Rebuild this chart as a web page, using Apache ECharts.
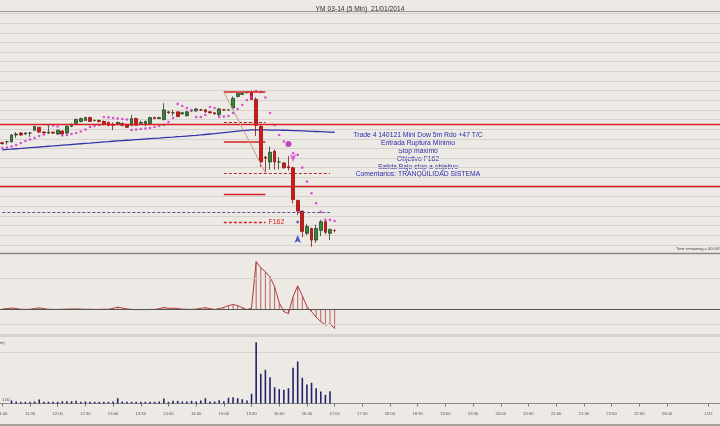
<!DOCTYPE html>
<html><head><meta charset="utf-8">
<script src="https://cdn.jsdelivr.net/npm/echarts@6/dist/echarts.min.js"></script>
<style>html,body{margin:0;padding:0;background:#edeae6;}#c{width:720px;height:426px;}</style>
</head><body><div id="c"></div><script>
// ---------- data ----------
const titleText = 'YM 03-14 (5 Min)  21/01/2014';
const tickLabels = ['11:00','11:30','12:00','12:30','13:00','13:30','14:00','14:30','15:00','15:30','16:00','16:30','17:00','17:30','18:00','18:30','19:00','19:30','20:00','20:30','21:00','21:30','22:00','22:30','23:00','1/22'];
// OHLC per 5-min bar from 11:00: [open, close, low, high]
const candles = [
[16376,16375,16374,16377],[16377,16377,16374,16378],[16377,16384,16376,16385],[16384,16385,16381,16387],
[16386,16384,16383,16387],[16385,16386,16384,16387],[16386,16386,16382,16387],[16389,16393,16388,16393],
[16392,16387,16386,16392],[16387,16386,16386,16388],[16386,16387,16385,16394],[16387,16386,16385,16387],
[16385,16389,16384,16389],[16388,16385,16384,16389],[16386,16393,16385,16394],[16393,16395,16392,16396],
[16396,16400,16395,16401],[16398,16401,16397,16402],[16399,16402,16399,16403],[16402,16398,16398,16403],
[16399,16399,16398,16400],[16399,16398,16397,16400],[16398,16395,16394,16399],[16397,16394,16393,16398],
[16395,16394,16389,16397],[16395,16397,16394,16398],[16396,16394,16393,16397],[16395,16392,16391,16395],
[16394,16401,16393,16405],[16401,16394,16394,16402],[16396,16397,16395,16399],[16395,16398,16393,16399],
[16396,16402,16395,16403],[16402,16401,16401,16403],[16401,16402,16401,16403],[16400,16410,16399,16417],
[16408,16407,16406,16409],[16407,16407,16404,16410],[16408,16403,16403,16408],[16406,16407,16405,16408],
[16404,16408,16403,16409],[16409,16409,16408,16410],[16409,16411,16408,16412],[16410,16410,16409,16411],
[16410,16408,16407,16411],[16408,16407,16406,16409],[16407,16406,16405,16407],[16405,16411,16403,16412],
[16410,16410,16409,16411],[16410,16410,16409,16411],[16412,16422,16410,16424],[16424,16427,16423,16427],
[16426,16427,16426,16428],[16428,16428,16427,16429],[16428,16421,16420,16430],[16421,16394,16383,16423],
[16393,16356,16351,16394],[16361,16360,16346,16362],[16356,16366,16348,16372],[16367,16356,16348,16369],
[16356,16356,16348,16361],[16355,16350,16349,16356],[16351,16350,16347,16362],[16350,16317,16313,16351],
[16316,16305,16301,16317],[16305,16284,16278,16305],[16282,16289,16280,16292],[16287,16275,16268,16288],
[16275,16287,16272,16291],[16285,16294,16279,16296],[16294,16283,16281,16295],[16282,16286,16275,16287],
[16285,16285,16283,16286]
];
const movingAvg = [16368.5,16369,16369.3,16369.7,16370,16370.4,16370.8,16371.2,16371.5,16371.9,16372.3,16372.6,16373,16373.4,16373.8,16374.1,16374.5,16374.9,16375.3,16375.6,16376,16376.4,16376.8,16377.1,16377.5,16377.9,16378.2,16378.5,16378.8,16379.2,16379.5,16379.8,16380.2,16380.5,16380.8,16381.2,16381.5,16381.8,16382.2,16382.5,16382.9,16383.3,16383.6,16384,16384.5,16385,16385.4,16385.9,16386.4,16386.9,16387.4,16387.9,16388.4,16388.8,16389.2,16389.3,16389.2,16389.2,16389.1,16389.1,16389,16388.9,16388.8,16388.6,16388.4,16388.2,16388,16387.8,16387.6,16387.4,16387.2,16387,16386.8];
// parabolic SAR dots per bar
const sarDots = [16370.5,16371.0,16372.1,16373.6,16375.7,16377.8,16379.3,16380.9,16383.0,16384.5,
16394.4,16393.9,16392.8,16383.5,16384.0,16385.0,16386.1,16387.6,16389.7,16392.3,
16393.3,16394.4,16402.7,16402.2,16401.6,16401.1,16400.6,16400.1,16389.2,16389.7,
16390.2,16390.7,16391.3,16392.3,16393.3,16394.4,16397.5,16401.6,16416.2,16414.1,
16412.0,16409.9,16402.7,16402.7,16404.7,16413.0,16412.0,16402.7,16403.2,16403.7,
16406.8,16411.0,16415.1,16420.3,16423.4,16429.6,16428.6,16422.9,16406.8,16394.4,
16384.0,16377.1,null,16365.0,16363.3,16350.1,16335.6,16323.5,16313.2,16304.2,
16295.9,16295.9,16294.8];
const oscillator = [0,0.02,0.06,0.03,-0.02,-0.03,-0.02,0.03,0.07,0.02,-0.02,-0.03,-0.03,-0.02,-0.01,0,0,-0.01,-0.02,-0.02,-0.03,-0.03,-0.02,-0.02,0.04,0.12,0.06,0,-0.03,-0.04,-0.04,-0.04,-0.03,-0.03,0.02,0.09,0.04,0.05,0.03,-0.01,-0.02,-0.03,-0.01,0.04,0.08,0.02,-0.03,0.02,0.1,0.22,0.28,0.22,0.08,-0.04,0.05,3.05,2.65,2.4,2.07,1.43,0.4,-0.17,-0.3,0.79,1.49,0.85,0.15,-0.17,-0.53,-0.81,-1.04,-0.97,-1.26];
const volume = [null,null,300,200,170,170,170,200,400,170,170,170,170,230,230,230,270,170,200,170,170,170,170,170,200,530,200,170,170,170,170,170,170,170,200,500,170,270,270,200,200,270,200,300,530,200,200,330,230,570,630,530,430,300,970,6130,2970,3370,2630,1630,1430,1370,1530,3570,4200,2570,1900,2070,1530,1200,870,1230,null];
// trade levels
const tradeLineFull = [16394.9, 16331.1];
const levelEntry = 16428.6, levelStopDash = 16397.5, levelA = 16376.7, levelB = 16322.8, levelF162 = 16293.8;
const levelRuptura = 16344.6, levelObjective = 16304.2;
const noteLines = ['Trade 4 140121 Mini Dow 5m Rdo +47 T/C','Entrada Ruptura Mínimo','Stop máximo','Objetivo F162','Salida Bajo stop a objetivo','Comentarios: TRANQUILIDAD SISTEMA'];
const signalCircle = [62, 16374.7], signalDown = [63, 16356], signalUp = [64, 16280.3], signalMark = [64, 16293.8];

// ---------- build ----------
const slotCount = 156;
const cats = [];
for (let i = 0; i < slotCount; i++) {
  const m = 11 * 60 + i * 5;
  cats.push(String(Math.floor(m / 60) % 24).padStart(2, '0') + ':' + String(m % 60).padStart(2, '0'));
}
cats[153] = '1/22';
const showTick = (i) => tickLabels.indexOf(cats[i]) >= 0;

const font = "'Liberation Sans', Arial, sans-serif";
const chart = echarts.init(document.getElementById('c'), null, {renderer: 'canvas'});
const seg = (a, b, v1, v2) => [{coord: [cats[a], v1]}, {coord: [cats[b], v2 === undefined ? v1 : v2]}];
const styled = (pair, extra) => [Object.assign(pair[0], extra), pair[1]];
const red = '#d42020';

const gridBase = {left: 0, width: 720, containLabel: false, outerBoundsMode: 'none'};
const xBase = {type: 'category', data: cats, boundaryGap: true, axisLine: {show: false}, axisTick: {show: false}, axisLabel: {show: false}, splitLine: {show: false}};

chart.setOption({
  animation: false,
  backgroundColor: '#edeae6',
  title: {text: titleText, left: 'center', top: 1, textStyle: {fontSize: 6.7, fontWeight: 'normal', color: '#333', fontFamily: font}},
  grid: [
    Object.assign({top: 13.5, height: 241}, gridBase),
    Object.assign({top: 254, height: 81.5}, gridBase),
    Object.assign({top: 335, height: 68.5}, gridBase)
  ],
  xAxis: [
    Object.assign({gridIndex: 0}, xBase),
    Object.assign({gridIndex: 1}, xBase),
    Object.assign({}, xBase, {gridIndex: 2,
      axisLine: {show: true, lineStyle: {color: '#8d8a87', width: 1}},
      axisTick: {show: true, interval: showTick, alignWithLabel: true, length: 3, lineStyle: {color: '#777'}},
      axisLabel: {show: true, interval: showTick, fontSize: 4.2, color: '#555', margin: 8, fontFamily: font}})
  ],
  yAxis: [
    {gridIndex: 0, type: 'value', min: 16260, max: 16510, interval: 10, axisLabel: {show: false}, axisLine: {show: false}, axisTick: {show: false}, splitLine: {show: true, lineStyle: {color: '#d6d2ce', width: 1}}},
    {gridIndex: 1, type: 'value', min: -1.71, max: 3.54, axisLabel: {show: false}, axisLine: {show: false}, axisTick: {show: false}, splitLine: {show: false}},
    {gridIndex: 2, type: 'value', min: 0, max: 6850, interval: 5100, axisLabel: {show: false}, axisLine: {show: false}, axisTick: {show: false}, splitLine: {show: true, lineStyle: {color: '#d6d2ce'}}}
  ],
  series: [
    {type: 'line', xAxisIndex: 0, yAxisIndex: 0, data: movingAvg, symbol: 'none', lineStyle: {color: '#3535a8', width: 1.3}, z: 2,
     markLine: {silent: true, symbol: 'none', animation: false, label: {show: false},
       data: [
         {yAxis: tradeLineFull[0], lineStyle: {color: red, width: 1.3, type: 'solid'}},
         {yAxis: tradeLineFull[1], lineStyle: {color: red, width: 1.3, type: 'solid'}},
         styled(seg(48, 57, levelEntry), {lineStyle: {color: red, width: 1.5, type: 'solid'}}),
         styled(seg(48, 57, levelStopDash), {lineStyle: {color: '#a02020', width: 1, type: [3, 2]}}),
         styled(seg(48, 57, levelA), {lineStyle: {color: red, width: 1.5, type: 'solid'}}),
         styled(seg(48, 57, levelB), {lineStyle: {color: red, width: 1.3, type: 'solid'}}),
         styled(seg(48, 57, levelF162), {lineStyle: {color: red, width: 1.3, type: [3, 2]}, label: {show: true, position: 'end', formatter: 'F162', color: red, fontSize: 7, distance: 3, fontFamily: font}}),
         styled(seg(48, 71, levelRuptura), {lineStyle: {color: '#b03030', width: 1, type: [3, 2]}}),
         styled(seg(0, 71, levelObjective), {lineStyle: {color: '#5050a8', width: 1, type: [3, 2]}}),
         styled(seg(48, 57, levelEntry, levelRuptura), {lineStyle: {color: '#c89a80', width: 1, type: 'solid'}})
       ]}},
    {type: 'candlestick', xAxisIndex: 0, yAxisIndex: 0, data: candles, barWidth: 3.2, z: 3,
     itemStyle: {color: '#2e8b2e', color0: '#d41818', borderColor: '#2d3d2d', borderColor0: '#8a1010', borderWidth: 0.8}},
    {type: 'scatter', xAxisIndex: 0, yAxisIndex: 0, data: sarDots, symbol: 'circle', symbolSize: 2.6, itemStyle: {color: '#d030c8'}, z: 4},
    {type: 'scatter', xAxisIndex: 0, yAxisIndex: 0, data: [signalCircle], symbol: 'circle', symbolSize: 6, itemStyle: {color: '#b020b8'}, z: 5},
    {type: 'scatter', xAxisIndex: 0, yAxisIndex: 0, data: [signalDown], symbol: 'arrow', symbolRotate: 180, symbolSize: [5, 8], itemStyle: {color: '#e040e0'}, z: 5},
    {type: 'scatter', xAxisIndex: 0, yAxisIndex: 0, data: [signalUp], symbol: 'arrow', symbolSize: [5, 8], itemStyle: {color: '#2030c0'}, z: 5},
    {type: 'scatter', xAxisIndex: 0, yAxisIndex: 0, data: [signalMark], symbol: 'diamond', symbolSize: 3.5, itemStyle: {color: '#3040b0'}, z: 5},
    {type: 'bar', xAxisIndex: 1, yAxisIndex: 1, data: oscillator, barWidth: 1, itemStyle: {color: '#b86060'}, z: 2},
    {type: 'line', xAxisIndex: 1, yAxisIndex: 1, data: oscillator, symbol: 'none', lineStyle: {color: '#b03a3a', width: 1}, z: 3,
     markLine: {silent: true, symbol: 'none', animation: false, label: {show: false},
       data: [{yAxis: 2, lineStyle: {color: '#d6d2ce', width: 1, type: 'solid'}}, {yAxis: -1, lineStyle: {color: '#d6d2ce', width: 1, type: 'solid'}}, {yAxis: 0, lineStyle: {color: '#555', width: 1, type: 'solid'}}]}},
    {type: 'bar', xAxisIndex: 2, yAxisIndex: 2, data: volume, barWidth: 1.6, itemStyle: {color: '#23236a'}, z: 3}
  ],
  graphic: [
    {type: 'line', shape: {x1: 0, y1: 11.5, x2: 720, y2: 11.5}, style: {stroke: '#9a9794', lineWidth: 1.2}, silent: true},
    {type: 'line', shape: {x1: 0, y1: 253.5, x2: 720, y2: 253.5}, style: {stroke: '#8a8784', lineWidth: 1.4}, silent: true},
    {type: 'line', shape: {x1: 0, y1: 335.5, x2: 720, y2: 335.5}, style: {stroke: '#8a8784', lineWidth: 1.4}, silent: true},
    {type: 'line', shape: {x1: 0, y1: 425, x2: 720, y2: 425}, style: {stroke: '#8a8784', lineWidth: 1.4}, silent: true},
    ...noteLines.map((t, i) => ({type: 'text', x: 418, y: 135.5 + i * 7.8, silent: true,
      style: {text: t, fill: '#2b2ba8', font: '6.8px ' + font, textAlign: 'center', textVerticalAlign: 'middle'}})),
    {type: 'text', x: 676, y: 249, silent: true, style: {text: 'Time remaining = 00:04:51', fill: '#444', font: '4px ' + font, textVerticalAlign: 'middle'}},
    {type: 'text', x: 0, y: 343, silent: true, style: {text: 'm)', fill: '#444', font: '4px ' + font, textVerticalAlign: 'middle'}},
    {type: 'text', x: 2, y: 400, silent: true, style: {text: '1.00', fill: '#444', font: '4px ' + font, textVerticalAlign: 'middle'}}
  ]
});
</script></body></html>
